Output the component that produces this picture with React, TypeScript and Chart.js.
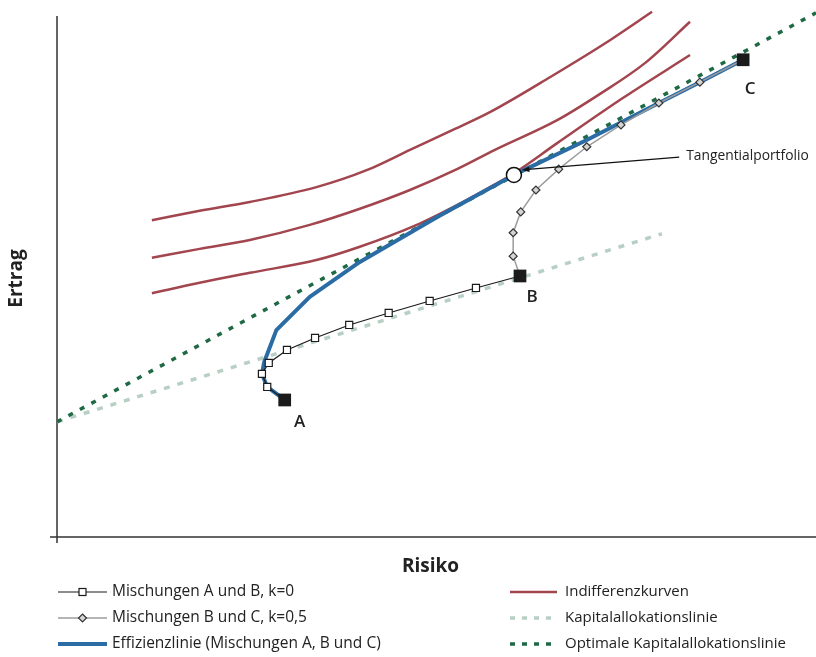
import React, { useEffect, useRef } from "react";
import { Chart, registerables } from "chart.js";

Chart.register(...registerables);

// Risiko (x) / Ertrag (y) in relative units 0..100
const abRisk = [30.0, 27.7, 27.0, 27.9, 30.3, 34.0, 38.5, 43.7, 49.1, 55.2, 61.0];
const abReturn = [26.3, 28.8, 31.3, 33.4, 35.9, 38.2, 40.7, 43.0, 45.3, 47.8, 50.1];

const bcRisk = [61.0, 60.1, 60.1, 61.1, 63.1, 66.1, 69.8, 74.3, 79.3, 84.7, 90.4];
const bcReturn = [50.1, 53.9, 58.4, 62.4, 66.6, 70.6, 74.9, 79.1, 83.3, 87.3, 91.6];

const effRisk = [30.0, 27.7, 27.0, 27.3, 28.9, 33.3, 39.9, 50.1, 60.2, 69.8, 79.3, 84.7, 90.4];
const effReturn = [26.3, 28.8, 31.3, 33.6, 39.7, 46.1, 52.8, 61.4, 69.5, 76.2, 83.3, 87.3, 91.6];

const ind1Risk = [12.5, 18.8, 25.4, 34.3, 40.8, 46.5, 51.8, 57.1, 65.0, 72.9, 78.4];
const ind1Return = [60.8, 62.6, 64.3, 67.2, 70.4, 74.3, 77.9, 81.6, 88.3, 95.4, 100.8];
const ind2Risk = [12.5, 18.8, 25.4, 33.3, 39.9, 46.5, 52.7, 57.7, 65.9, 71.5, 77.5, 83.4];
const ind2Return = [53.6, 55.3, 57.0, 59.9, 63.0, 66.6, 70.6, 74.3, 80.0, 85.0, 91.0, 98.9];
const ind3Risk = [12.5, 18.8, 25.4, 34.3, 39.9, 47.4, 52.7, 57.1, 60.1, 65.9, 74.6, 83.4];
const ind3Return = [46.8, 48.8, 50.7, 53.2, 55.7, 59.9, 63.7, 67.2, 69.7, 75.6, 84.3, 92.5];

const calRisk = [0, 79.7];
const calReturn = [22.1, 58.2];
const optCalRisk = [0, 100];
const optCalReturn = [22.1, 100.6];

const cornerNames = ["A", "B", "C"];
const cornerRisk = [30.0, 61.0, 90.4];
const cornerReturn = [26.3, 50.1, 91.6];

const tangentRisk = [60.2];
const tangentReturn = [69.5];
const tangentLabel = "Tangentialportfolio";
const tangentLabelRisk = 82.9;
const tangentLabelReturn = 72.9;

const xTitle = "Risiko";
const yTitle = "Ertrag";

const legendLeft = [
  { label: "Mischungen A und B, k=0", kind: "ab" },
  { label: "Mischungen B und C, k=0,5", kind: "bc" },
  { label: "Effizienzlinie (Mischungen A, B und C)", kind: "eff" },
];
const legendRight = [
  { label: "Indifferenzkurven", kind: "ind" },
  { label: "Kapitalallokationslinie", kind: "cal" },
  { label: "Optimale Kapitalallokationslinie", kind: "opt" },
];

const C_BLACK = "#1b1b1b";
const C_GRAY = "#9c9c9c";
const C_DIAMOND = "#d4d4d4";
const C_BLUE = "#2b6ca5";
const C_RED = "#a2454e";
const C_CAL = "#b8cfc4";
const C_OPT = "#1f6a45";
const FONT = "'Open Sans', 'DejaVu Sans', sans-serif";

const pts = (xs: number[], ys: number[]) => xs.map((x, i) => ({ x, y: ys[i] }));

function drawSample(ctx: CanvasRenderingContext2D, kind: string, x0: number, x1: number, y: number) {
  ctx.save();
  ctx.beginPath();
  if (kind === "ab") {
    ctx.strokeStyle = C_BLACK; ctx.lineWidth = 1.2;
    ctx.moveTo(x0, y); ctx.lineTo(x1, y); ctx.stroke();
    const c = (x0 + x1) / 2;
    ctx.fillStyle = "#fff"; ctx.fillRect(c - 3.5, y - 3.5, 7, 7);
    ctx.strokeRect(c - 3.5, y - 3.5, 7, 7);
  } else if (kind === "bc") {
    ctx.strokeStyle = C_GRAY; ctx.lineWidth = 1.5;
    ctx.moveTo(x0, y); ctx.lineTo(x1, y); ctx.stroke();
    const c = (x0 + x1) / 2;
    ctx.beginPath();
    ctx.moveTo(c, y - 4); ctx.lineTo(c + 4, y); ctx.lineTo(c, y + 4); ctx.lineTo(c - 4, y); ctx.closePath();
    ctx.fillStyle = C_DIAMOND; ctx.fill();
    ctx.strokeStyle = "#333"; ctx.lineWidth = 1.2; ctx.stroke();
  } else if (kind === "eff") {
    ctx.strokeStyle = C_BLUE; ctx.lineWidth = 4;
    ctx.moveTo(x0, y); ctx.lineTo(x1, y); ctx.stroke();
  } else if (kind === "ind") {
    ctx.strokeStyle = C_RED; ctx.lineWidth = 2.5;
    ctx.moveTo(x0, y); ctx.lineTo(x1, y); ctx.stroke();
  } else if (kind === "cal" || kind === "opt") {
    ctx.strokeStyle = kind === "cal" ? C_CAL : C_OPT; ctx.lineWidth = 3.5;
    ctx.setLineDash([5, 7]);
    ctx.moveTo(x0, y); ctx.lineTo(x1, y); ctx.stroke();
  }
  ctx.restore();
}

const overlayPlugin = {
  id: "overlay",
  beforeDatasetsDraw(chart: any) {
    const ctx = chart.ctx as CanvasRenderingContext2D;
    const xs = chart.scales.x, ys = chart.scales.y;
    const x0 = xs.getPixelForValue(0), y0 = ys.getPixelForValue(0);
    const yTop = ys.getPixelForValue(100);
    ctx.save();
    ctx.strokeStyle = "#333"; ctx.lineWidth = 1.5;
    ctx.beginPath();
    ctx.moveTo(x0, yTop); ctx.lineTo(x0, y0 + 6);
    ctx.moveTo(x0 - 7, y0); ctx.lineTo(chart.width, y0);
    ctx.stroke();
    ctx.restore();
  },
  afterDraw(chart: any) {
    const ctx = chart.ctx as CanvasRenderingContext2D;
    const xs = chart.scales.x, ys = chart.scales.y;
    const area = chart.chartArea;
    ctx.save();
    // axis titles
    ctx.fillStyle = "#222";
    ctx.font = `bold 19px ${FONT}`;
    ctx.textAlign = "center"; ctx.textBaseline = "middle";
    ctx.fillText(xTitle, (xs.getPixelForValue(0) + chart.width) / 2 - 6, area.bottom + 30);
    ctx.save();
    ctx.translate(17, ys.getPixelForValue(50) + 2);
    ctx.rotate(-Math.PI / 2);
    ctx.fillText(yTitle, 0, 0);
    ctx.restore();

    // corner labels
    ctx.font = `600 17px ${FONT}`;
    const off = [[15, 22], [12, 21], [7, 29]];
    cornerNames.forEach((n, i) => {
      const px = xs.getPixelForValue(cornerRisk[i]);
      const py = ys.getPixelForValue(cornerReturn[i]);
      ctx.fillText(n, px + off[i][0], py + off[i][1]);
    });

    // tangential annotation
    const tx = xs.getPixelForValue(tangentRisk[0]);
    const ty = ys.getPixelForValue(tangentReturn[0]);
    const lx = xs.getPixelForValue(tangentLabelRisk);
    const ly = ys.getPixelForValue(tangentLabelReturn);
    const ax = tx + 8, ay = ty - 5;
    ctx.strokeStyle = "#111"; ctx.lineWidth = 1.3;
    ctx.beginPath(); ctx.moveTo(lx - 7, ly); ctx.lineTo(ax + 6, ay - 0.5); ctx.stroke();
    const ang = Math.atan2(ay - ly, ax - (lx - 7));
    ctx.fillStyle = "#111";
    ctx.beginPath();
    ctx.moveTo(ax, ay);
    ctx.lineTo(ax - 8 * Math.cos(ang - 0.35), ay - 8 * Math.sin(ang - 0.35));
    ctx.lineTo(ax - 8 * Math.cos(ang + 0.35), ay - 8 * Math.sin(ang + 0.35));
    ctx.closePath(); ctx.fill();
    ctx.fillStyle = "#222";
    ctx.font = `13.8px ${FONT}`;
    ctx.textAlign = "left";
    ctx.fillText(tangentLabel, lx, ly - 1);

    // legend
    const rows = [592, 618, 644];
    ctx.font = `15.5px ${FONT}`;
    ctx.textAlign = "left"; ctx.textBaseline = "middle";
    legendLeft.forEach((it, i) => {
      drawSample(ctx, it.kind, 58, 107, rows[i]);
      ctx.fillStyle = "#222";
      ctx.fillText(it.label, 112, rows[i]);
    });
    ctx.font = `15px ${FONT}`;
    legendRight.forEach((it, i) => {
      drawSample(ctx, it.kind, 510, 557, rows[i]);
      ctx.fillStyle = "#222";
      ctx.fillText(it.label, 565, rows[i]);
    });
    ctx.restore();
  },
};

export default function App() {
  const ref = useRef<HTMLCanvasElement | null>(null);
  useEffect(() => {
    document.body.style.margin = "0";
    const canvas = ref.current;
    if (!canvas) return;
    const red = (xs: number[], ys: number[], label: string) => ({
      label, data: pts(xs, ys), showLine: true, borderColor: C_RED, borderWidth: 2.5,
      pointRadius: 0, cubicInterpolationMode: "monotone", order: 10,
    });
    const chart = new Chart(canvas, {
      type: "scatter",
      data: {
        datasets: [
          {
            label: "Tangentialportfolio", data: pts(tangentRisk, tangentReturn), pointStyle: "circle",
            pointRadius: 7.5, pointBackgroundColor: "#fff", pointBorderColor: "#111", pointBorderWidth: 1.5, order: 0,
          } as any,
          {
            label: "Ecken", data: pts(cornerRisk, cornerReturn), pointStyle: "rect", pointRadius: 9,
            pointBackgroundColor: C_BLACK, pointBorderColor: C_BLACK, pointBorderWidth: 0, order: 1,
          },
          {
            label: legendLeft[0].label, data: pts(abRisk, abReturn), showLine: true, borderColor: C_BLACK,
            borderWidth: 1.2, pointStyle: "rect", pointRadius: 5, pointBackgroundColor: "#fff",
            pointBorderColor: C_BLACK, pointBorderWidth: 1.2, order: 2,
          },
          {
            label: legendLeft[1].label, data: pts(bcRisk, bcReturn), showLine: true, borderColor: C_GRAY,
            borderWidth: 1.5, pointStyle: "rectRot", pointRadius: 4, pointBackgroundColor: C_DIAMOND,
            pointBorderColor: "#333", pointBorderWidth: 1.2, order: 3,
          },
          {
            label: legendLeft[2].label, data: pts(effRisk, effReturn), showLine: true, borderColor: C_BLUE,
            borderWidth: 4, pointRadius: 0, borderJoinStyle: "round", order: 4,
          },
          {
            label: legendRight[2].label, data: pts(optCalRisk, optCalReturn), showLine: true, borderColor: C_OPT,
            borderWidth: 3.5, borderDash: [5, 8], pointRadius: 0, order: 5,
          },
          {
            label: legendRight[1].label, data: pts(calRisk, calReturn), showLine: true, borderColor: C_CAL,
            borderWidth: 3.5, borderDash: [6, 8], pointRadius: 0, order: 6,
          },
          red(ind1Risk, ind1Return, legendRight[0].label),
          red(ind2Risk, ind2Return, legendRight[0].label + " 2"),
          red(ind3Risk, ind3Return, legendRight[0].label + " 3"),
        ],
      },
      options: {
        animation: false,
        responsive: false,
        devicePixelRatio: 1,
        layout: { autoPadding: false, padding: { left: 57, right: 0, top: 0, bottom: 120 } },
        scales: {
          x: { type: "linear", min: 0, max: 100, display: false },
          y: { type: "linear", min: 0, max: 103.07, display: false },
        },
        plugins: { legend: { display: false }, tooltip: { enabled: false }, title: { display: false } },
      },
      plugins: [overlayPlugin],
    });
    return () => chart.destroy();
  }, []);
  return (
    <div style={{ position: "absolute", left: 0, top: 0, width: 816, height: 657, background: "#fff" }}>
      <canvas ref={ref} width={816} height={657} />
    </div>
  );
}
